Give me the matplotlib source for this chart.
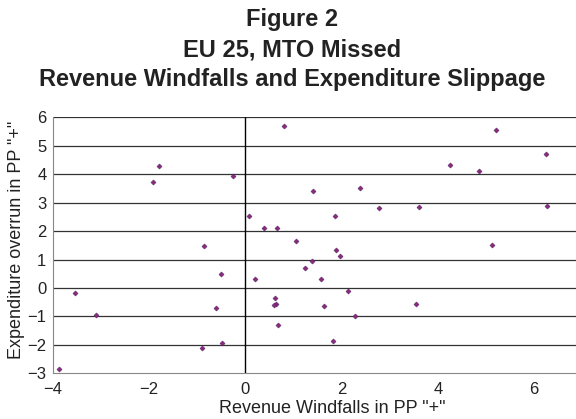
import matplotlib.pyplot as plt

# Revenue windfalls (x) vs expenditure overrun (y), percentage points
windfalls = [0.80, -1.79, -1.91, -0.26, 0.08, 0.40, 0.66, 1.05, -0.85, -0.50,
             0.20, -3.53, 0.62, 0.64, 0.59, -0.60, -3.11, 0.68, -0.49, -0.89,
             -3.87, 5.21, 6.24, 4.25, 4.85, 1.41, 2.38, 2.77, 3.61, 6.26,
             1.87, 5.13, 1.88, 1.97, 1.39, 1.25, 1.58, 2.14, 1.64, 3.54,
             2.28, 1.83]
overrun = [5.70, 4.30, 3.74, 3.95, 2.52, 2.11, 2.11, 1.64, 1.46, 0.49,
           0.30, -0.16, -0.36, -0.56, -0.61, -0.71, -0.96, -1.30, -1.92, -2.12,
           -2.84, 5.57, 4.70, 4.34, 4.10, 3.42, 3.50, 2.80, 2.85, 2.88,
           2.52, 1.52, 1.35, 1.12, 0.95, 0.69, 0.30, -0.11, -0.63, -0.55,
           -0.98, -1.85]

plt.rcParams["font.family"] = ["Liberation Sans", "DejaVu Sans"]

fig = plt.figure(figsize=(5.76, 4.19), dpi=100)
ax = fig.add_axes([0.0915, 0.109, 0.915, 0.611])

ax.set_xlim(-4, 6.95)
ax.set_ylim(-3, 6)
ax.set_yticks(range(-3, 7))
ax.set_xticks([-4, -2, 0, 2, 4, 6])

for v in range(-2, 7):
    ax.axhline(v, color="#333333", linewidth=0.9, zorder=1)
ax.axvline(0, color="black", linewidth=1.0, zorder=1)

ax.scatter(windfalls, overrun, marker="D", s=7, color="#8a2a7c",
           edgecolors="#4a2060", linewidths=0.3, zorder=3)

for side in ["top", "right"]:
    ax.spines[side].set_visible(False)
ax.spines["left"].set_color("#888888")
ax.spines["bottom"].set_color("#888888")
ax.tick_params(length=0, labelsize=12, colors="#222222")
ax.tick_params(axis="x", pad=6)
ax.tick_params(axis="y", pad=4.5)

ax.set_xlabel('Revenue Windfalls in PP "+"', fontsize=13, color="#222222")
ax.set_ylabel('Expenditure overrun in PP "+"', fontsize=13, color="#222222")
ax.xaxis.set_label_coords(0.53, -0.156)
ax.xaxis.label.set_va("baseline")
ax.yaxis.set_label_coords(-0.068, 0.523)
ax.yaxis.label.set_va("center")

titles = ["Figure 2", "EU 25, MTO Missed",
          "Revenue Windfalls and Expenditure Slippage"]
for t, y in zip(titles, [0.937, 0.866, 0.794]):
    fig.text(0.507, y, t, ha="center", va="baseline",
             fontsize=17, fontweight="bold", color="#222222")

plt.savefig("out.png", dpi=100)
